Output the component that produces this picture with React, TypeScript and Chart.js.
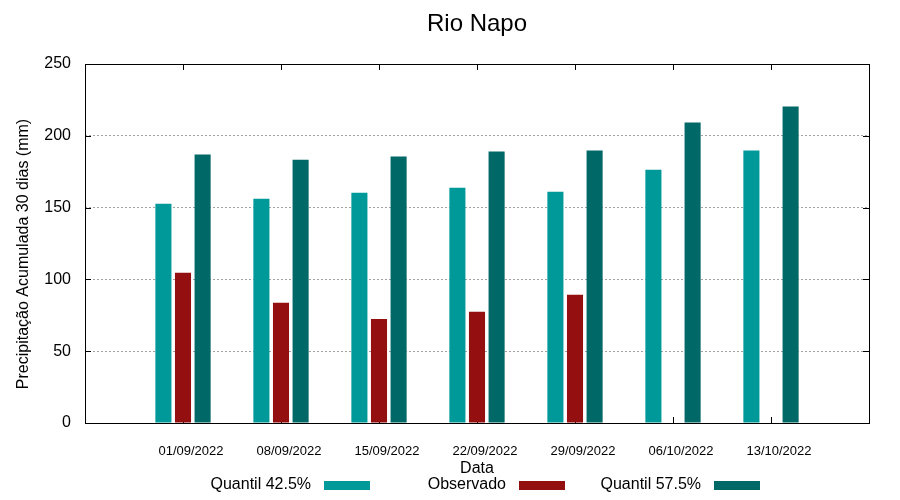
import React, { useEffect, useRef } from "react";
import { Chart, registerables } from "chart.js";

Chart.register(...registerables);

const chartTitle = "Rio Napo";
const xTitle = "Data";
const yTitle = "Precipitação Acumulada 30 dias (mm)";
const categories = [
  "01/09/2022",
  "08/09/2022",
  "15/09/2022",
  "22/09/2022",
  "29/09/2022",
  "06/10/2022",
  "13/10/2022",
];
const quantil425 = [152.7, 156.2, 160.4, 163.9, 161.1, 176.4, 189.7];
const observado: (number | null)[] = [104.6, 83.7, 72.5, 77.4, 89.3, null, null];
const quantil575 = [186.9, 183.4, 185.5, 189.0, 189.7, 209.2, 220.4];
const yTicks = [0, 50, 100, 150, 200, 250];
const seriesNames = ["Quantil 42.5%", "Observado", "Quantil 57.5%"];
const seriesColors = ["#009999", "#940f0f", "#006866"];

const FONT = "'Liberation Sans', Arial, sans-serif";

const pad = (arr: (number | null)[]) => [null, ...arr, null];

const framePlugin = {
  id: "gnuFrame",
  beforeDatasetsDraw(chart: any) {
    const { ctx, chartArea: a, scales } = chart;
    const L = 6;
    ctx.save();
    ctx.strokeStyle = "#000";
    ctx.lineWidth = 1;
    ctx.beginPath();
    scales.y.ticks.forEach((t: any) => {
      const y = Math.round(scales.y.getPixelForValue(t.value)) + 0.5;
      ctx.moveTo(a.left, y);
      ctx.lineTo(a.left + L, y);
      ctx.moveTo(a.right, y);
      ctx.lineTo(a.right - L, y);
    });
    for (let i = 1; i <= categories.length; i++) {
      const x = Math.round(scales.x.getPixelForTick(i)) + 0.5;
      ctx.moveTo(x, a.bottom);
      ctx.lineTo(x, a.bottom - L);
      ctx.moveTo(x, a.top);
      ctx.lineTo(x, a.top + L);
    }
    ctx.stroke();
    ctx.restore();
  },
  afterDatasetsDraw(chart: any) {
    const { ctx, chartArea: a } = chart;
    ctx.save();
    ctx.strokeStyle = "#000";
    ctx.lineWidth = 1;
    ctx.strokeRect(
      Math.round(a.left) + 0.5,
      Math.round(a.top) + 0.5,
      Math.round(a.right - a.left),
      Math.round(a.bottom - a.top)
    );
    ctx.restore();
  },
  afterDraw(chart: any) {
    const { ctx } = chart;
    // y-axis title
    ctx.save();
    ctx.font = `16px ${FONT}`;
    ctx.fillStyle = "#000";
    ctx.translate(24, 254);
    ctx.rotate(-Math.PI / 2);
    ctx.textAlign = "center";
    ctx.textBaseline = "middle";
    ctx.fillText(yTitle, 0, 0);
    ctx.restore();

    // legend: text then colour box
    const x0 = 324;
    const step = 195;
    const boxY = 481;
    const boxW = 46;
    const boxH = 9;
    ctx.save();
    ctx.font = `16px ${FONT}`;
    ctx.textAlign = "right";
    ctx.textBaseline = "alphabetic";
    chart.data.datasets.forEach((ds: any, i: number) => {
      const bx = x0 + step * i;
      ctx.fillStyle = "#000";
      ctx.fillText(ds.label, bx - 13, 489);
      ctx.fillStyle = ds.backgroundColor;
      ctx.fillRect(bx, boxY, boxW, boxH);
    });
    ctx.restore();
  },
};

export default function App() {
  const canvasRef = useRef<HTMLCanvasElement | null>(null);

  useEffect(() => {
    if (!canvasRef.current) return;
    Chart.defaults.font.family = FONT;
    Chart.defaults.color = "#000";
    const series = [quantil425, observado, quantil575];
    const chart = new Chart(canvasRef.current, {
      type: "bar",
      data: {
        labels: ["", ...categories, ""],
        datasets: series.map((s, i) => ({
          label: seriesNames[i],
          data: pad(s),
          backgroundColor: seriesColors[i],
          borderWidth: 0,
          categoryPercentage: 0.6,
          barPercentage: 0.82,
        })),
      },
      options: {
        animation: false,
        responsive: false,
        devicePixelRatio: 1,
        layout: { padding: { left: 0, right: 31, top: 0, bottom: 0 } },
        plugins: {
          legend: { display: false },
          tooltip: { enabled: false },
          title: {
            display: true,
            text: chartTitle,
            fullSize: false,
            color: "#000",
            font: { size: 24, weight: "normal", family: FONT },
            padding: { top: 9.6, bottom: 25.6 },
          },
        },
        scales: {
          x: {
            type: "category",
            offset: false,
            grid: { display: false, drawTicks: false },
            border: { display: false },
            ticks: {
              autoSkip: false,
              maxRotation: 0,
              minRotation: 0,
              padding: 21,
              labelOffset: 8,
              color: "#000",
              font: { size: 13, family: FONT },
            },
            title: {
              display: true,
              text: xTitle,
              color: "#000",
              font: { size: 16, family: FONT },
              padding: { top: 0, bottom: 22 },
            },
            afterFit(scale: any) {
              scale.height = 77;
            },
          },
          y: {
            min: 0,
            max: 250,
            grid: { drawTicks: false, color: "#a0a0a0", lineWidth: 1 },
            border: { display: false, dash: [2, 2] },
            afterBuildTicks(scale: any) {
              scale.ticks = yTicks.map((v) => ({ value: v }));
            },
            ticks: {
              padding: 14,
              color: "#000",
              font: { size: 16, family: FONT },
            },
            title: { display: false },
            afterFit(scale: any) {
              scale.width = 85;
            },
          },
        },
      },
      plugins: [framePlugin],
    } as any);
    return () => chart.destroy();
  }, []);

  return (
    <div style={{ position: "absolute", left: 0, top: 0, width: 900, height: 500, background: "#fff" }}>
      <canvas ref={canvasRef} width={900} height={500} style={{ display: "block" }} />
    </div>
  );
}
